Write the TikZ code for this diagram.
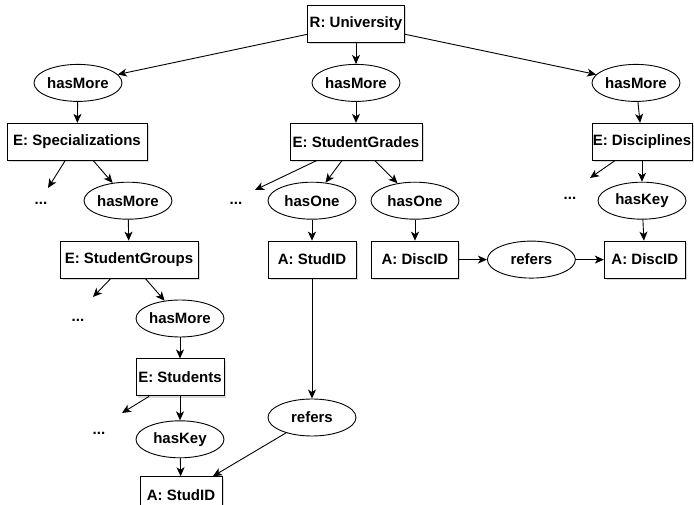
\documentclass[tikz,border=0pt]{standalone}
\usepackage{fontspec}
\setmainfont{Liberation Sans}
\usetikzlibrary{arrows.meta,positioning,shapes.geometric,shadows}

\begin{document}
\begin{tikzpicture}[->,>={Stealth[length=9pt,width=8pt,inset=2.5pt]},line width=0.9pt,
    node distance=21pt,
    every node/.style={font=\fontsize{15}{18}\selectfont\bfseries},
    ent/.style={draw,rectangle,fill=white,minimum height=37pt,inner sep=0pt,
      drop shadow={opacity=0.3,shadow xshift=2pt,shadow yshift=-2pt}},
    rel/.style={draw,ellipse,fill=white,minimum width=88pt,minimum height=37pt,inner sep=0pt}]
    \useasboundingbox (-356pt,24pt) rectangle (338pt,-481pt);
    \node[ent,minimum width=97pt] (uni) {R: University};
    \node[rel] (hm1) [below = of uni, xshift=-278pt] {hasMore};
    \node[rel] (hm2) [below = of uni] {hasMore};
    \node[rel] (hm3) [below = of uni, xshift=280pt] {hasMore};
    \node[ent,minimum width=140pt] (spec) [below = of hm1, xshift=-1pt] {E: Specializations};
    \node[ent,minimum width=132pt] (grades) [below = of hm2] {E: StudentGrades};
    \node[ent,minimum width=100pt] (disc) [below = of hm3, xshift=6pt] {E: Disciplines};
    \node[rel] (hm4) [below = of spec, xshift=51pt] {hasMore};
    \node[rel] (one1) [below = of grades, xshift=-44pt] {hasOne};
    \node[rel] (one2) [below = of grades, xshift=59pt] {hasOne};
    \node[rel] (key1) [below = of disc] {hasKey};
    \node[ent,minimum width=138pt] (groups) [below = of hm4, xshift=1pt] {E: StudentGroups};
    \node[ent,minimum width=88pt] (stud1) [below = of one1] {A: StudID};
    \node[ent,minimum width=87pt] (dsc1) [below = of one2] {A: DiscID};
    \node[rel] (ref1) [right = 28pt of dsc1] {refers};
    \node[ent,minimum width=81pt] (dsc2) [right = 28pt of ref1] {A: DiscID};
    \node[rel] (hm5) [below = of groups, xshift=51pt] {hasMore};
    \node[ent,minimum width=88pt] (studs) [below = of hm5] {E: Students};
    \node[rel] (key2) [below = 24pt of studs] {hasKey};
    \node[ent,minimum width=82pt] (stud2) [below = 18pt of key2, xshift=1pt] {A: StudID};
    \node[rel] (ref2) [below = 120pt of stud1] {refers};
    % the "..." leftovers
    \node (dots1) at (-315pt,-179pt) {...};
    \node (dots2) at (-120pt,-179pt) {...};
    \node (dots3) at (214pt,-174pt) {...};
    \node (dots4) at (-278pt,-296pt) {...};
    \node (dots5) at (-257pt,-409pt) {...};
    \coordinate (e1) at (-308pt,-164pt);
    \coordinate (e2) at (-101pt,-166pt);
    \coordinate (e3) at (234pt,-154pt);
    \coordinate (e4) at (-263pt,-273pt);
    \coordinate (e5) at (-234pt,-389pt);
    \path (uni) edge (hm1) edge (hm2) edge (hm3)
    (hm1) edge (spec)
    (hm2) edge (grades)
    (hm3) edge (disc)
    (spec) edge (e1) edge (hm4)
    (grades) edge (e2) edge (one1) edge (one2)
    (disc) edge (e3) edge (key1)
    (hm4) edge (groups)
    (one1) edge (stud1)
    (one2) edge (dsc1)
    (key1) edge (dsc2)
    (dsc1) edge (ref1)
    (ref1) edge (dsc2)
    (groups) edge (e4) edge (hm5)
    (hm5) edge (studs)
    (studs) edge (e5) edge (key2)
    (key2) edge (stud2)
    (stud1) edge (ref2)
    (ref2) edge (stud2);
  \end{tikzpicture}
\end{document}
